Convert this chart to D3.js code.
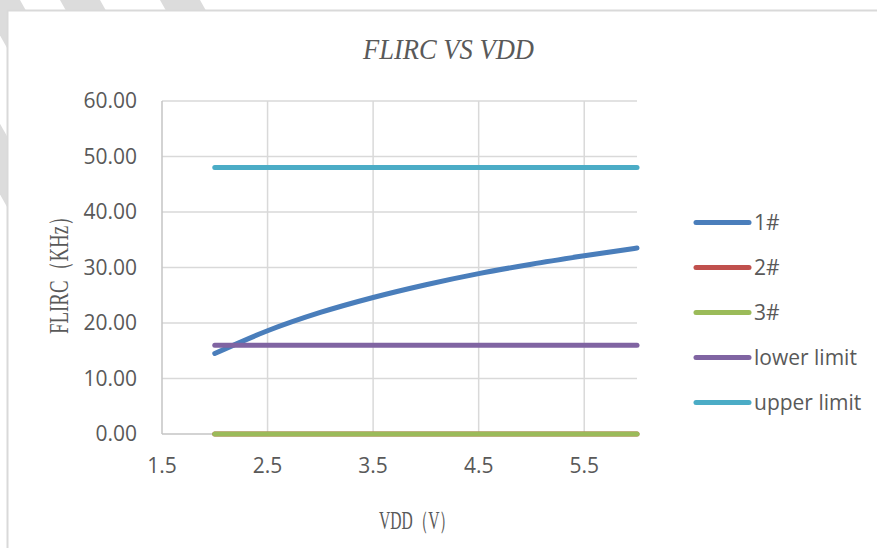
<!DOCTYPE html>
<html><head><meta charset="utf-8">
<script src="https://cdn.jsdelivr.net/npm/d3@7"></script>
<style>html,body{margin:0;padding:0;background:#fff;overflow:hidden}</style>
</head><body>
<svg id="c" width="877" height="548"></svg>
<script>
const vdd = [2.0, 2.5, 3.0, 3.5, 4.0, 4.5, 5.0, 5.5, 6.0];
const s1 = [14.5, 18.6, 21.9, 24.6, 26.9, 28.9, 30.6, 32.1, 33.5];
const s2 = [0, 0, 0, 0, 0, 0, 0, 0, 0];
const s3 = [0, 0, 0, 0, 0, 0, 0, 0, 0];
const lowerLimit = [16, 16, 16, 16, 16, 16, 16, 16, 16];
const upperLimit = [48, 48, 48, 48, 48, 48, 48, 48, 48];
const seriesNames = ["1#", "2#", "3#", "lower limit", "upper limit"];
const seriesColors = ["#4A7EBB", "#C0504D", "#9BBB59", "#8064A2", "#4BACC6"];
const xTicks = [1.5, 2.5, 3.5, 4.5, 5.5];
const yTicks = [0, 10, 20, 30, 40, 50, 60];
const title = "FLIRC VS VDD";
const xTitle = "VDD\uFF08V\uFF09";
const yTitle = "FLIRC\uFF08KHz\uFF09";

const svg = d3.select("#c");
const allSeries = [s1, s2, s3, lowerLimit, upperLimit];

// watermark stripes outside the frame
const wm = svg.append("g").attr("fill", "#dcdcdc");
[-300, -200, -110, -20, 60, 160].forEach(x0 => {
  wm.append("polygon").attr("points", `${x0},0 ${x0+40},0 ${x0+40+130},230 ${x0+130},230`);
});
// white chart area on top
svg.append("rect").attr("x", 7.5).attr("y", 10.5).attr("width", 900).attr("height", 600)
  .attr("fill", "#fff").attr("stroke", "#d9d9d9").attr("stroke-width", 2);

const x = d3.scaleLinear().domain([1.5, 6.0]).range([162, 637]);
const y = d3.scaleLinear().domain([0, 60]).range([434, 101]);

// gridlines
const grid = svg.append("g").attr("stroke", "#d9d9d9").attr("stroke-width", 1.5);
yTicks.filter(t => t > 0).forEach(t => grid.append("line")
  .attr("x1", x(1.5)).attr("x2", x(6.0)).attr("y1", y(t)).attr("y2", y(t)));
xTicks.filter(t => t > 1.5).forEach(t => grid.append("line")
  .attr("x1", x(t)).attr("x2", x(t)).attr("y1", y(0)).attr("y2", y(60)));
// axes lines
const ax = svg.append("g").attr("stroke", "#c4c4c4").attr("stroke-width", 1.5);
ax.append("line").attr("x1", x(1.5)).attr("x2", x(1.5)).attr("y1", y(0)).attr("y2", y(60));
ax.append("line").attr("x1", x(1.5)).attr("x2", x(6.0)).attr("y1", y(0)).attr("y2", y(0));

// tick labels
const tf = "'Open Sans', 'Liberation Sans', sans-serif";
svg.append("g").selectAll("text").data(yTicks).join("text")
  .attr("x", 137).attr("y", d => y(d) + 7).attr("text-anchor", "end")
  .attr("font-family", tf).attr("font-size", 21).attr("fill", "#595959")
  .text(d => d3.format(".2f")(d));
svg.append("g").selectAll("text").data(xTicks).join("text")
  .attr("x", d => x(d)).attr("y", 473).attr("text-anchor", "middle")
  .attr("font-family", tf).attr("font-size", 21).attr("fill", "#595959")
  .text(d => d3.format(".1f")(d));

// series
const line = d3.line().x((d, i) => x(vdd[i])).y(d => y(d)).curve(d3.curveMonotoneX);
allSeries.forEach((s, k) => {
  svg.append("path").attr("d", line(s)).attr("fill", "none")
    .attr("stroke", seriesColors[k]).attr("stroke-width", 5)
    .attr("stroke-linecap", "round").attr("stroke-linejoin", "round");
});

// legend
const lg = svg.append("g");
seriesNames.forEach((n, k) => {
  const ly = 222.5 + k * 45;
  lg.append("line").attr("x1", 696).attr("x2", 749).attr("y1", ly).attr("y2", ly)
    .attr("stroke", seriesColors[k]).attr("stroke-width", 5).attr("stroke-linecap", "round");
  lg.append("text").attr("x", 754).attr("y", ly + 7.5)
    .attr("font-family", tf).attr("font-size", 21).attr("fill", "#595959").text(n);
});

// titles
const sf = "'Liberation Serif', 'DejaVu Serif', serif";
svg.append("text").attr("x", 363).attr("y", 59).attr("font-family", sf)
  .attr("font-style", "italic").attr("font-size", 29).attr("fill", "#595959")
  .attr("textLength", 171).attr("lengthAdjust", "spacingAndGlyphs").text(title);
svg.append("text").attr("x", 379).attr("y", 529).attr("font-family", sf)
  .attr("font-size", 25).attr("fill", "#595959")
  .attr("textLength", 76).attr("lengthAdjust", "spacingAndGlyphs").text(xTitle);
svg.append("text").attr("transform", "translate(68,334) rotate(-90)")
  .attr("font-family", sf).attr("font-size", 27).attr("fill", "#595959")
  .attr("textLength", 127).attr("lengthAdjust", "spacingAndGlyphs").text(yTitle);
</script>
</body></html>
